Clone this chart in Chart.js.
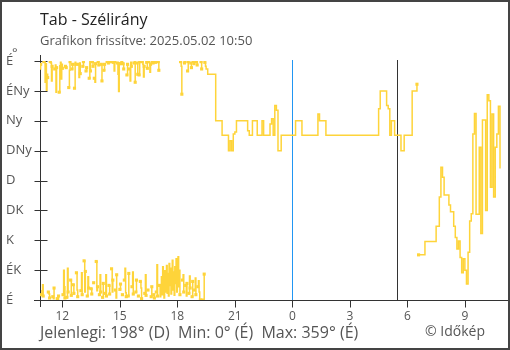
<!DOCTYPE html>
<html>
<head>
<meta charset="utf-8">
<title>Tab - Szélirány</title>
<script src="https://cdn.jsdelivr.net/npm/chart.js@4"></script>
<style>
  body { margin: 0; background: #fff; }
  canvas { display: block; }
</style>
</head>
<body>
<canvas id="windChart" width="510" height="350"></canvas>
<script>
const station = 'Tab - Szélirány'
const updated = 'Grafikon frissítve: 2025.05.02 10:50'
const axisStart = '10:50'      // previous day
const axisEnd = '11:15'
const sunrise = '05:28'
const dirLabels = ['É', 'ÉK', 'K', 'DK', 'D', 'DNy', 'Ny', 'ÉNy', 'É']
const hourTicks = [12, 15, 18, 21, 0, 3, 6, 9]

// gusty afternoon, 2 minute samples from 10:50, 10 per row
const dayStart = '10:50'
const dayStep = 2
const dayDirs = [
  348, 355, 8, 14, 23, 6, 359, 358, 328, 356,
  316, 340, 335, 12, 9, 3, 359, 357, 330, 352,
  5, 2, 18, 348, 354, 313, 350, 2, 1, 6,
  313, 353, 358, 333, 355, 349, 8, 45, 20, 3,
  352, 350, 4, 48, 12, 320, 346, 359, 30, 7,
  348, 355, 23, 10, 319, 358, 355, 41, 15, 5,
  355, 335, 357, 341, 14, 41, 8, 352, 359, 59,
  12, 43, 345, 350, 6, 35, 18, 334, 359, 345,
  17, 9, 359, 352, 26, 334, 328, 356, 58, 14,
  20, 359, 354, 8, 38, 12, 355, 330, 4, 25,
  346, 355, 10, 38, 6, 359, 359, 357, 22, 9,
  359, 359, 47, 12, 30, 358, 345, 359, 15, 3,
  38, 357, 340, 314, 356, 16, 24, 356, 359, 8,
  356, 348, 30, 48, 11, 5, 339, 355, 6, 40,
  348, 330, 358, 352, 20, 42, 9, 357, 359, 328,
  12, 30, 357, 340, 6, 339, 359, 28, 18, 2,
  359, 355, 336, 352, 10, 38, 7, 358, 349, 15,
  359, 358, 343, 355, 5, 20, 359, 357, 8, 3,
  359, 358, 12, 53, 6, 359, 346, 22, 5, 14,
  35, 8, 50, 18, 3, 44, 12, 28, 52, 10,
  40, 6, 55, 22, 48, 9, 33, 60, 15, 42,
  7, 50, 25, 62, 12, 38, 65, 20, 45, 8,
  359, 352, 310, 30, 38, 12, 357, 359, 22, 6,
  25, 345, 359, 10, 36, 18, 357, 350, 5, 28,
  359, 356, 15, 33, 8, 359, 354, 20, 29, 12,
  0, 0, 359, 348, 0, 0, 0, 39, 358, 352
]

// 5 minute samples from 19:30 to 10:50
const nightStart = '19:30'
const nightStep = 5
const nightDirs = [
  348, 340, 340, 340,                                           // 19:30
  340, 340, 270, 270, 270, 270, 248, 248, 248, 248, 225, 240,   // 19:50
  225, 250, 253, 270, 270, 270, 270, 270, 270, 270, 255, 248,   // 20:50
  248, 270, 270, 270, 248, 248, 248, 270, 248, 248, 248, 248,   // 21:50
  265, 273, 248, 293, 286, 225, 225, 248, 248, 248, 248, 248,   // 22:50
  248, 248, 248, 248, 270, 270, 270, 270, 248, 248, 248, 248,   // 23:50
  248, 248, 248, 248, 248, 248, 280, 270, 270, 270, 270, 248,   // 00:50
  248, 248, 248, 248, 248, 248, 248, 248, 248, 248, 248, 248,   // 01:50
  248, 248, 248, 248, 248, 248, 248, 248, 248, 248, 248, 248,   // 02:50
  248, 248, 248, 248, 248, 248, 248, 248, 288, 315, 315, 315,   // 03:50
  315, 293, 288, 248, 270, 270, 248, 248, 248, 248, 225, 225,   // 04:50
  248, 248, 248, 248, 248, 315, 315, 315, 325, 68, 68, 68,      // 05:50
  68, 88, 88, 88, 88, 88, 88, 88, 111, 111, 155, 200,           // 06:50
  185, 158, 158, 158, 143, 133, 133, 111, 94, 77, 89, 64,       // 07:50
  41, 62, 45, 24, 72, 119, 130, 250, 281, 129, 129, 230,        // 08:50
  100, 271, 271, 135, 309, 300, 170, 280, 155, 230, 250, 292,   // 09:50
  198                                                           // 10:50
]

const yellow = '#fed43a'

function toHours(t) {
  const [h, m] = t.split(':').map(Number)
  return h + m / 60
}
// hours relative to midnight, afternoon hours belong to the day before
const rel = h => h > 10.5 ? h - 24 : h

const series = (start, step, list) =>
  list.map((d, i) => ({ x: rel(toHours(start)) + i * step / 60, y: d }))
const points = series(dayStart, dayStep, dayDirs).concat(series(nightStart, nightStep, nightDirs))
const dirs = dayDirs.concat(nightDirs)

// a jump across north (e.g. 350 -> 10) is not drawn
const wraps = (a, b) => Math.abs(a - b) > 180

function markerRadius(c) {
  const i = c.dataIndex
  const before = i > 0 && wraps(dirs[i - 1], dirs[i])
  const after = i < dirs.length - 1 && wraps(dirs[i], dirs[i + 1])
  return before || after ? 2.2 : 0
}

const dirName = v => dirLabels[Math.round(v / 45) % 8]
const cur = dirs[dirs.length - 1]
const lo = Math.min(...dirs)
const hi = Math.max(...dirs)
const footer = `Jelenlegi: ${cur}° (${dirName(cur)})  Min: ${lo}° (${dirName(lo)})  Max: ${hi}° (${dirName(hi)})`

const FONT = '"Open Sans", "Noto Sans", sans-serif'

const frame = {
  id: 'frame',
  beforeDatasetsDraw(chart) {
    const { ctx, chartArea: a, scales: { x, y } } = chart
    const ax = Math.round(a.left) + 0.5
    const ay = Math.round(a.bottom) + 0.5
    ctx.save()
    ctx.lineWidth = 1

    // midnight and sunrise
    const vline = (v, color) => {
      const px = Math.round(x.getPixelForValue(v)) + 0.5
      ctx.beginPath()
      ctx.strokeStyle = color
      ctx.moveTo(px, a.top - 1)
      ctx.lineTo(px, ay)
      ctx.stroke()
    }
    vline(0, '#2196f3')
    vline(toHours(sunrise), '#333333')

    ctx.strokeStyle = '#333'
    ctx.beginPath()
    ctx.moveTo(ax, a.top - 6)
    ctx.lineTo(ax, a.bottom + 7)
    ctx.moveTo(a.left - 6, ay)
    ctx.lineTo(a.right, ay)
    dirLabels.forEach((l, i) => {
      const py = Math.round(y.getPixelForValue(i * 45)) + 0.5
      ctx.moveTo(ax - 6, py)
      ctx.lineTo(ax + 7, py)
    })
    hourTicks.forEach(h => {
      const px = Math.round(x.getPixelForValue(rel(h))) + 0.5
      ctx.moveTo(px, ay)
      ctx.lineTo(px, ay + 7)
    })
    ctx.stroke()
    ctx.restore()
  },
  afterDraw(chart) {
    const { ctx, scales: { x, y } } = chart
    ctx.save()
    ctx.textAlign = 'left'
    ctx.textBaseline = 'alphabetic'
    ctx.fillStyle = '#222'
    ctx.font = '16px ' + FONT
    ctx.fillText(station, 40, 25)
    ctx.fillStyle = '#555'
    ctx.font = '13px ' + FONT
    ctx.fillText(updated, 40, 45)

    // direction names
    ctx.textBaseline = 'middle'
    dirLabels.forEach((l, i) => ctx.fillText(l, 6, y.getPixelForValue(i * 45)))
    ctx.textBaseline = 'alphabetic'
    ctx.fillText('°', 12, 57)

    // hours
    ctx.textAlign = 'center'
    ctx.font = '12px ' + FONT
    hourTicks.forEach(h => ctx.fillText(String(h), x.getPixelForValue(rel(h)), 320))

    ctx.textAlign = 'left'
    ctx.font = '16px ' + FONT
    ctx.fillText(footer, 40, 338)
    ctx.font = '14px ' + FONT
    ctx.fillText('© Időkép', 425, 336)

    ctx.strokeStyle = '#444'
    ctx.lineWidth = 2
    ctx.strokeRect(1, 1, 508, 348)
    ctx.restore()
  }
}

new Chart(document.getElementById('windChart'), {
  type: 'line',
  data: {
    datasets: [{
      data: points,
      stepped: true,
      borderColor: yellow,
      borderWidth: 1.5,
      pointStyle: 'rect',
      pointRadius: markerRadius,
      pointBackgroundColor: yellow,
      pointBorderWidth: 0,
      segment: {
        borderColor: c => wraps(c.p0.parsed.y, c.p1.parsed.y) ? 'transparent' : undefined
      }
    }]
  },
  options: {
    responsive: false,
    animation: false,
    layout: { padding: { left: 40, top: 61, right: 2, bottom: 50 } },
    scales: {
      x: { type: 'linear', display: false, min: rel(toHours(axisStart)), max: toHours(axisEnd) },
      y: { display: false, min: 0, max: 360 }
    },
    plugins: {
      legend: { display: false },
      tooltip: { enabled: false }
    }
  },
  plugins: [frame]
})
</script>
</body>
</html>
